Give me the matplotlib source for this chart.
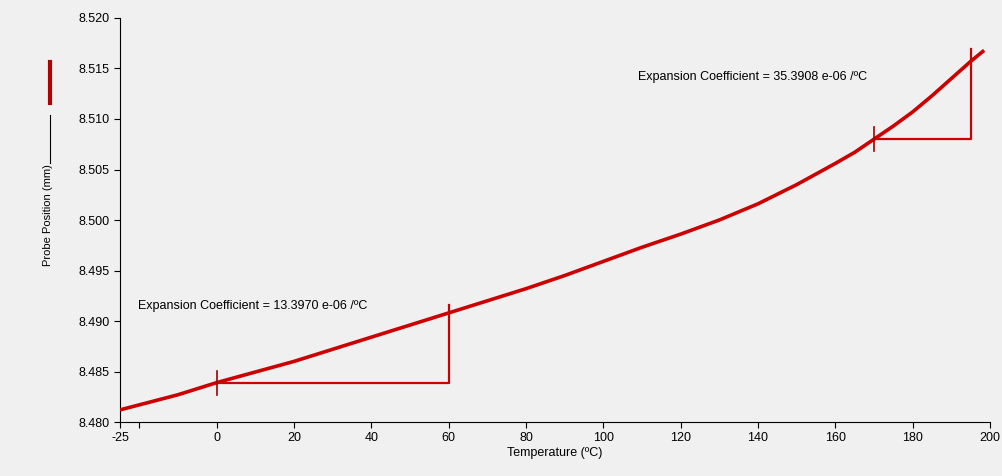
import matplotlib
matplotlib.use("Agg")
import matplotlib.pyplot as plt
import numpy as np
from matplotlib.lines import Line2D

plt.rcParams['font.family'] = ['Liberation Sans', 'DejaVu Sans']

# Data
temperature = [-25, -10, 0, 20, 40, 60, 80, 90, 100, 110, 120, 130, 140, 150, 160,
               165, 170, 175, 180, 185, 190, 195, 198.5]
position = [8.4812, 8.4827, 8.4839, 8.4860, 8.4884, 8.4908, 8.4932, 8.4945, 8.4959,
            8.4973, 8.4986, 8.5000, 8.5016, 8.5035, 8.5056, 8.5067, 8.5080, 8.5093,
            8.5107, 8.5123, 8.5140, 8.5157, 8.5168]

# Slope triangles: (x_start, y_start, x_end, y_top)
tri1 = dict(x0=0, y0=8.4839, x1=60, ytop=8.4916)
tri2 = dict(x0=170, y0=8.5080, x1=195, ytop=8.5169)
label1 = "Expansion Coefficient = 13.3970 e-06 /ºC"
label2 = "Expansion Coefficient = 35.3908 e-06 /ºC"

xticks = [-25, 0, 20, 40, 60, 80, 100, 120, 140, 160, 180, 200]
yticks = [8.480, 8.485, 8.490, 8.495, 8.500, 8.505, 8.510, 8.515, 8.520]

bg = '#f0f0f0'
red = '#cc0000'
dark_red = '#a00000'

fig = plt.figure(figsize=(10.03, 4.76), dpi=100, facecolor=bg)
ax = fig.add_axes([0.1196, 0.1134, 0.8674, 0.8488])
ax.set_facecolor(bg)

ax.plot(temperature, position, color=red, lw=2.6, solid_capstyle='butt',
        solid_joinstyle='round', zorder=3)

for t in (tri1, tri2):
    ax.plot([t['x0'], t['x1'], t['x1']], [t['y0'], t['y0'], t['ytop']],
            color=red, lw=1.6, zorder=2)
    ax.plot([t['x0'], t['x0']], [t['y0'] - 0.0012, t['y0'] + 0.0012],
            color=dark_red, lw=1.2, zorder=4)

ax.text(-20.4, 8.4915, label1, fontsize=9, ha='left', va='center')
ax.text(109, 8.5142, label2, fontsize=9, ha='left', va='center')

ax.set_xlim(-25, 200)
ax.set_ylim(8.480, 8.520)
ax.set_xticks(xticks)
ax.set_xticklabels([str(v) for v in xticks])
ax.set_xticks([-20], minor=True)
ax.set_yticks(yticks)
ax.set_yticklabels([f"{v:.3f}" for v in yticks])
ax.tick_params(axis='both', labelsize=9, length=4, width=0.8, colors='black')
ax.tick_params(axis='x', which='minor', length=4, width=0.8)
for s in ('top', 'right'):
    ax.spines[s].set_visible(False)
for s in ('left', 'bottom'):
    ax.spines[s].set_linewidth(0.8)

ax.set_xlabel("Temperature (ºC)", fontsize=9, labelpad=2)

# y label with its legend samples, placed like the reference
fig.text(48/1003, 1-215/476, "Probe Position (mm)", rotation=90, fontsize=8,
         ha='center', va='center')
fig.add_artist(Line2D([50/1003, 50/1003], [1-115/476, 1-163/476],
                      color='black', lw=0.8, transform=fig.transFigure))
fig.add_artist(Line2D([50/1003, 50/1003], [1-62/476, 1-103/476],
                      color='#b00000', lw=3, transform=fig.transFigure))

fig.savefig("out.png", dpi=100, facecolor=bg)
